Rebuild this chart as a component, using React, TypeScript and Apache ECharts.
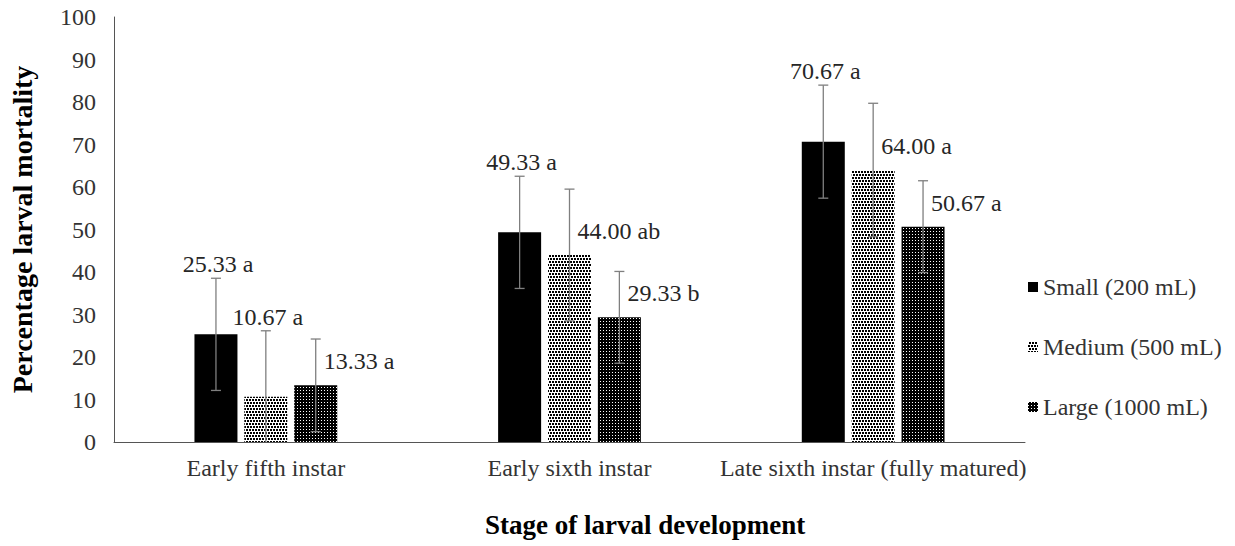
import React, { useEffect, useRef } from "react";
import * as echarts from "echarts";

const categories = ["Early fifth instar", "Early sixth instar", "Late sixth instar (fully matured)"];
const seriesNames = ["Small (200 mL)", "Medium (500 mL)", "Large (1000 mL)"];

const smallMean = [25.33, 49.33, 70.67];
const smallErr = [13.2, 13.2, 13.3];
const smallLetters = ["a", "a", "a"];

const mediumMean = [10.67, 44.0, 64.0];
const mediumErr = [15.5, 15.5, 15.7];
const mediumLetters = ["a", "ab", "a"];

const largeMean = [13.33, 29.33, 50.67];
const largeErr = [10.9, 10.8, 10.8];
const largeLetters = ["a", "b", "a"];

// label placement: "above" = centred above the error bar, "right" = right of the error bar
const smallPlace = ["above", "above", "above"];
const mediumPlace = ["above", "right", "right"];
const largePlace = ["right", "right", "right"];

const yTicks = { min: 0, max: 100, interval: 10 };

const FONT = "Liberation Serif, Times New Roman, serif";
const BAR_W = 43;
const BAR_GAP = 0.16;

export default function App() {
  const ref = useRef<HTMLDivElement>(null);

  useEffect(() => {
    if (!ref.current) return;
    const chart = echarts.init(ref.current, undefined, { renderer: "svg" });

    const means = [smallMean, mediumMean, largeMean];
    const errs = [smallErr, mediumErr, largeErr];
    const letters = [smallLetters, mediumLetters, largeLetters];
    const places = [smallPlace, mediumPlace, largePlace];

    const errData: any[] = [];
    means.forEach((m, s) => {
      m.forEach((v, i) => {
        errData.push([i, v, errs[s][i], s, `${v.toFixed(2)} ${letters[s][i]}`, places[s][i]]);
      });
    });

    const pitch = BAR_W * (1 + BAR_GAP);

    const barStyles = [
      { color: "#000" },
      {
        color: "#fff",
        decal: {
          color: "#000",
          symbol: "rect",
          symbolSize: 1,
          dashArrayX: [[2, 1], [0, 1, 2, 0]],
          dashArrayY: [2, 1],
        },
      },
      {
        color: "#000",
        decal: {
          color: "#fff",
          symbol: "rect",
          symbolSize: 1,
          dashArrayX: [1, 2],
          dashArrayY: [1, 2],
        },
      },
    ];

    const option: any = {
      animation: false,
      textStyle: { fontFamily: FONT },
      grid: { left: 100, right: 210, top: 17, bottom: 104, containLabel: false },
      legend: {
        data: seriesNames,
        orient: "vertical",
        left: 1023,
        top: 270,
        itemWidth: 10,
        itemHeight: 10,
        itemGap: 36,
        icon: "rect",
        textStyle: { fontFamily: FONT, fontSize: 24, color: "#333", lineHeight: 24 },
      },
      xAxis: {
        type: "category",
        data: categories,
        axisLine: { lineStyle: { color: "#555", width: 1 } },
        axisTick: { show: false },
        axisLabel: { fontFamily: FONT, fontSize: 24, color: "#333", margin: 14, interval: 0 },
      },
      yAxis: {
        type: "value",
        min: yTicks.min,
        max: yTicks.max,
        interval: yTicks.interval,
        splitLine: { show: false },
        axisLine: { show: true, lineStyle: { color: "#555", width: 1 } },
        axisTick: { show: false },
        axisLabel: { fontFamily: FONT, fontSize: 24, color: "#333", margin: 18 },
        name: "Percentage larval mortality",
        nameLocation: "middle",
        nameRotate: 90,
        nameGap: 78,
        nameTextStyle: { fontFamily: FONT, fontSize: 28, fontWeight: "bold", color: "#000" },
      },
      graphic: [
        {
          type: "text",
          left: 645 - 160,
          top: 511,
          style: {
            text: "Stage of larval development",
            fontFamily: FONT,
            fontSize: 27,
            fontWeight: "bold",
            fill: "#000",
          },
        },
      ],
      series: [
        ...means.map((m, s) => ({
          type: "bar",
          name: seriesNames[s],
          data: m,
          barWidth: BAR_W,
          barGap: `${BAR_GAP * 100}%`,
          itemStyle: barStyles[s],
          emphasis: { disabled: true },
        })),
        {
          type: "custom",
          z: 10,
          data: errData,
          renderItem: (params: any, api: any) => {
            const cat = api.value(0);
            const mean = api.value(1);
            const err = api.value(2);
            const s = api.value(3);
            const text = errData[params.dataIndex][4];
            const place = errData[params.dataIndex][5];
            const dx = (s - 1) * pitch;
            const top = api.coord([cat, mean + err]);
            const lowVal = Math.max(0, mean - err);
            const bot = api.coord([cat, lowVal]);
            const barTop = api.coord([cat, mean]);
            const x = top[0] + dx;
            const cap = 5;
            const stroke = { stroke: "#7f7f7f", lineWidth: 1.3 };
            const children: any[] = [
              { type: "line", shape: { x1: x, y1: top[1], x2: x, y2: bot[1] }, style: stroke },
              { type: "line", shape: { x1: x - cap, y1: top[1], x2: x + cap, y2: top[1] }, style: stroke },
            ];
            if (mean - err > 0) {
              children.push({ type: "line", shape: { x1: x - cap, y1: bot[1], x2: x + cap, y2: bot[1] }, style: stroke });
            }
            const ts = { text, fontFamily: FONT, fontSize: 24, fill: "#262626", verticalAlign: "middle" };
            if (place === "above") {
              children.push({ type: "text", x: x + 2, y: top[1] - 14, style: { ...ts, align: "center" } });
            } else {
              children.push({ type: "text", x: x + 8, y: barTop[1] - 24, style: { ...ts, align: "left" } });
            }
            return { type: "group", children };
          },
        },
      ],
    };

    chart.setOption(option);
    return () => chart.dispose();
  }, []);

  return (
    <div
      ref={ref}
      style={{ position: "fixed", left: 0, top: 0, width: 1235, height: 546, background: "#fff" }}
    />
  );
}
